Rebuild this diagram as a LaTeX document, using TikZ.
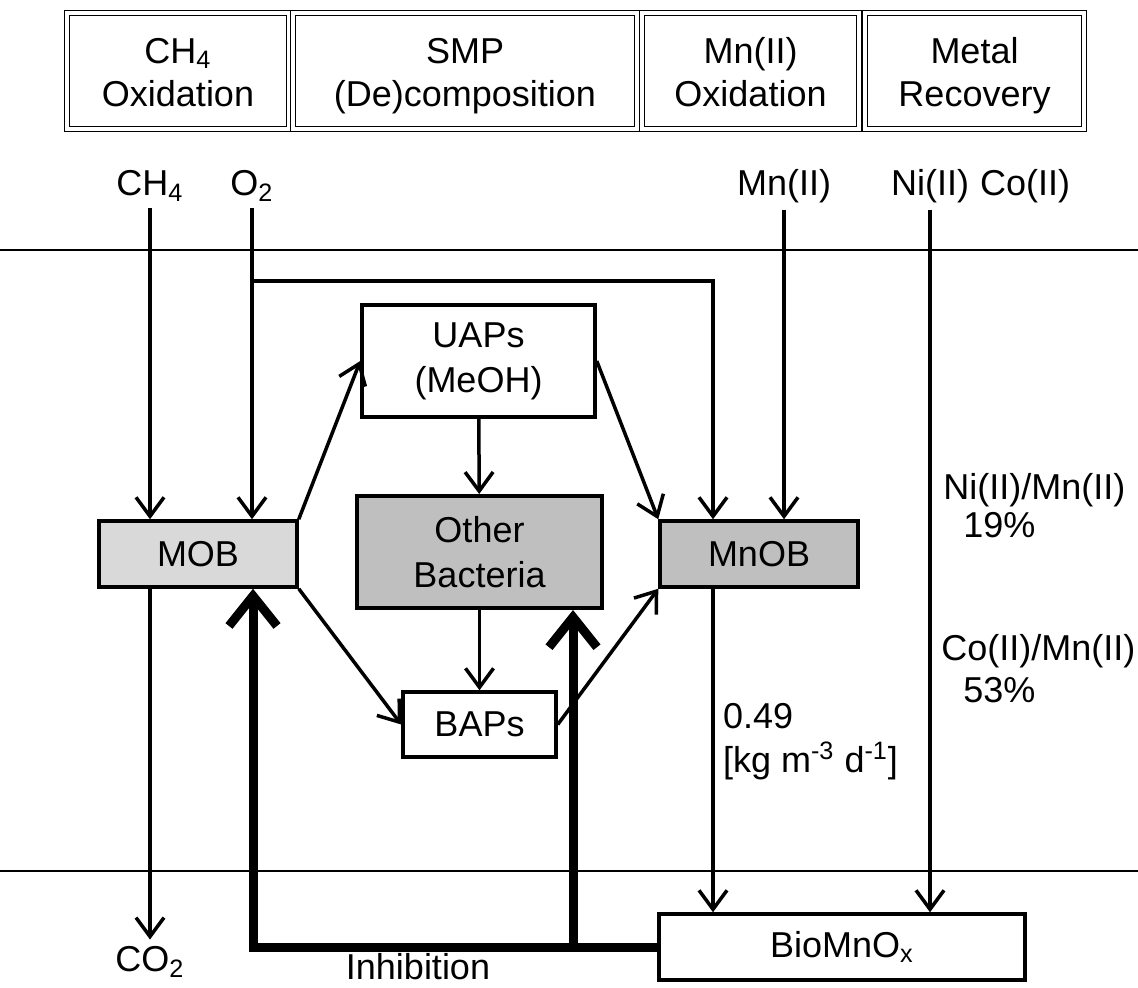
\documentclass[tikz,border=0pt]{standalone}
\usepackage{fontspec}
\setmainfont{Liberation Sans}
\usetikzlibrary{arrows.meta,positioning}

\begin{document}
\begin{tikzpicture}[
x=0.5pt, y=-0.5pt,
every node/.style={font=\fontsize{18}{22.5}\selectfont},
hdr/.style={draw, double, double distance=1.6pt, line width=0.8pt, align=center, minimum height=58pt, inner sep=0pt, font=\fontsize{18}{21.5}\selectfont},
box/.style={draw, line width=1.75pt, align=center, inner sep=0pt},
arr/.style={line width=1.75pt, -{Straight Barb[length=9.5pt,width=14pt]}},
inh/.style={line width=4.5pt, -{Straight Barb[length=15pt,width=24pt]}},
rule/.style={line width=0.9pt}
]
\useasboundingbox (0,0) rectangle (1138,988);

% process headers
\newcommand{\hdrtop}{\rule{0pt}{20pt}}
\node[hdr, minimum width=111pt] (hch4) at (178,71) {\hdrtop CH\textsubscript{4}\\\strut Oxidation};
\node[hdr, minimum width=172pt] (hsmp) at (465,71) {\hdrtop SMP\\\strut (De)composition};
\node[hdr, minimum width=108.5pt] (hmn) at (750.5,71) {\hdrtop Mn(II)\\\strut Oxidation};
\node[hdr, minimum width=109.5pt] (hmet) at (974.5,71) {\hdrtop Metal\\\strut Recovery};

% inputs
\node (ch4) at (150,186) {CH\textsubscript{4}};
\node (o2) at (252,186) {O\textsubscript{2}};
\node (mnin) at (784,186) {Mn(II)};
\node (ni) at (930,186) {Ni(II)};
\node[right=-1.5pt of ni] (co) {Co(II)};

\draw[rule] (0,250) -- (1138,250);
\draw[rule] (0,871) -- (1138,871);

% reactor
\node[box, fill={rgb,255:red,217;green,217;blue,217}, minimum width=99pt, minimum height=33pt] (mob) at (198,554) {MOB};
\node[box, minimum width=116.5pt, minimum height=56pt] (uaps) at (478.5,361) {UAPs\\(MeOH)};
\node[box, line width=2pt, fill={rgb,255:red,191;green,191;blue,191}, minimum width=122.5pt, minimum height=56pt] (other) at (479.5,552) {Other\\Bacteria};
\node[box, fill={rgb,255:red,191;green,191;blue,191}, minimum width=99pt, minimum height=33pt] (mnob) at (759,554) {MnOB};
\node[box, minimum width=76.5pt, minimum height=32.5pt] (baps) at (479.5,724.5) {BAPs};
\node[box, minimum width=183pt, minimum height=33pt] (bio) at (842,947) {BioMnO\textsubscript{x}};

\node (co2) at (150,962) {CO\textsubscript{2}};
\node (inhtxt) at (418,967) {Inhibition};
\node[anchor=west] (rate) at (716,716) {0.49};
\node[anchor=west] (unit) at (716,761) {[kg m\textsuperscript{-3} d\textsuperscript{-1}]};
\node[anchor=west, inner sep=0pt] (nimn) at (943,490) {Ni(II)/Mn(II)};
\node[anchor=west, inner sep=0pt] (niv) at (963,525) {19\%};
\node[anchor=west, inner sep=0pt] (comn) at (941,651) {Co(II)/Mn(II)};
\node[anchor=west, inner sep=0pt] (cov) at (963,690) {53\%};

\coordinate (o2br) at (252,281);
\coordinate (mnobo2) at (713,0);
\path (mob.south) ++(55,0) coordinate (mobhit);
\path (other.south) ++(93.5,0) coordinate (othhit);

\draw[arr] (ch4) -- (ch4 |- mob.north);
\draw[arr] (o2) -- (o2 |- mob.north);
\draw[arr] (o2br) -| (mnob.north -| mnobo2);
\draw[arr] (mnin) -- (mnin |- mnob.north);
\draw[arr] (ni) -- (ni |- bio.north);
\draw[arr] (mob.north east) -- (uaps.west);
\draw[arr] (mob.south east) -- (baps.west);
\draw[arr] (uaps.east) -- (mnob.north west);
\draw[arr] (baps.east) -- (mnob.south west);
\draw[arr] (uaps) -- (other);
\draw[arr] (other) -- (baps);
\draw[arr] (ch4 |- mob.south) -- (co2);
\draw[arr] (mnob.south -| mnobo2) -- (bio.north -| mnobo2);

\draw[inh] (bio.west) -| (mobhit);
\draw[inh] (bio.west -| othhit) -- (othhit);
\end{tikzpicture}
\end{document}
